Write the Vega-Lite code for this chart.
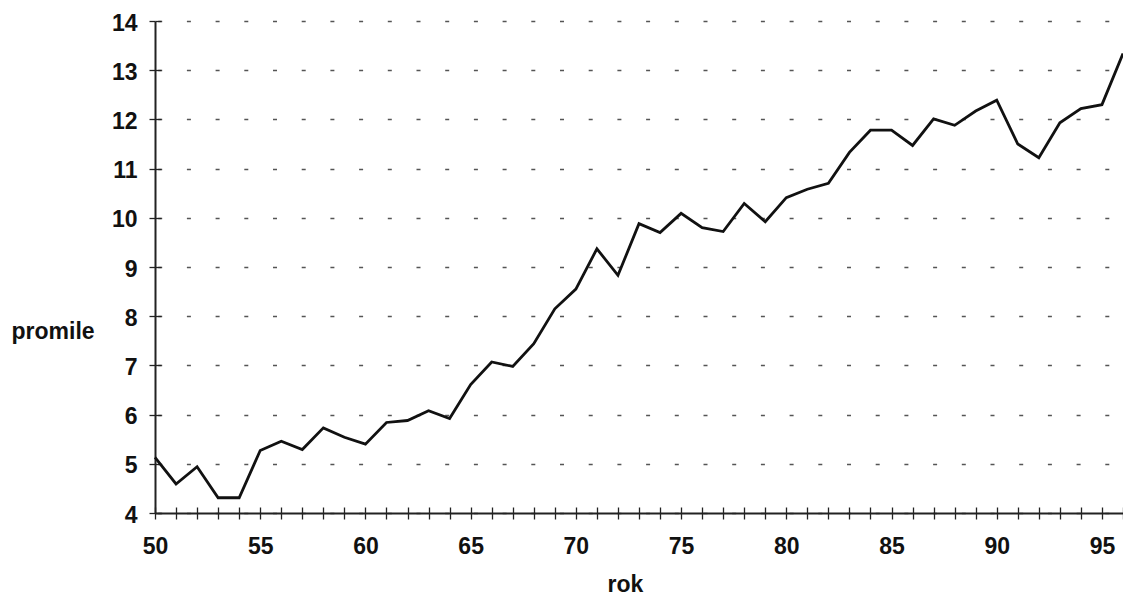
{
  "$schema": "https://vega.github.io/schema/vega-lite/v6.json",
  "width": 968,
  "height": 492,
  "autosize": {"type": "none"},
  "padding": {"left": 155, "top": 21, "right": 0, "bottom": 85},
  "background": "white",
  "config": {
    "view": {"stroke": null},
    "font": "Liberation Sans",
    "axis": {"labelFont": "Liberation Sans", "titleFont": "Liberation Sans"}
  },
  "data": {
    "values": [
      {"rok": 50, "promile": 5.13}, {"rok": 51, "promile": 4.59}, {"rok": 52, "promile": 4.94},
      {"rok": 53, "promile": 4.31}, {"rok": 54, "promile": 4.31}, {"rok": 55, "promile": 5.27},
      {"rok": 56, "promile": 5.46}, {"rok": 57, "promile": 5.29}, {"rok": 58, "promile": 5.73},
      {"rok": 59, "promile": 5.54}, {"rok": 60, "promile": 5.4}, {"rok": 61, "promile": 5.84},
      {"rok": 62, "promile": 5.88}, {"rok": 63, "promile": 6.08}, {"rok": 64, "promile": 5.92},
      {"rok": 65, "promile": 6.61}, {"rok": 66, "promile": 7.07}, {"rok": 67, "promile": 6.98},
      {"rok": 68, "promile": 7.44}, {"rok": 69, "promile": 8.15}, {"rok": 70, "promile": 8.55},
      {"rok": 71, "promile": 9.37}, {"rok": 72, "promile": 8.83}, {"rok": 73, "promile": 9.88},
      {"rok": 74, "promile": 9.7}, {"rok": 75, "promile": 10.09}, {"rok": 76, "promile": 9.8},
      {"rok": 77, "promile": 9.72}, {"rok": 78, "promile": 10.29}, {"rok": 79, "promile": 9.92},
      {"rok": 80, "promile": 10.41}, {"rok": 81, "promile": 10.58}, {"rok": 82, "promile": 10.7},
      {"rok": 83, "promile": 11.33}, {"rok": 84, "promile": 11.78}, {"rok": 85, "promile": 11.78},
      {"rok": 86, "promile": 11.47}, {"rok": 87, "promile": 12.01}, {"rok": 88, "promile": 11.88},
      {"rok": 89, "promile": 12.17}, {"rok": 90, "promile": 12.39}, {"rok": 91, "promile": 11.5},
      {"rok": 92, "promile": 11.22}, {"rok": 93, "promile": 11.93}, {"rok": 94, "promile": 12.22},
      {"rok": 95, "promile": 12.3}, {"rok": 96, "promile": 13.34}
    ]
  },
  "layer": [
    {
      "mark": {"type": "line", "color": "#111111", "strokeWidth": 2.8, "strokeJoin": "miter"},
      "encoding": {
        "x": {
          "field": "rok", "type": "quantitative",
          "scale": {"domain": [50, 96], "nice": false, "zero": false},
          "axis": {
            "title": "rok",
            "titleFontSize": 23, "titleFontWeight": "bold", "titleColor": "#111",
            "titleX": 470, "titleY": 78, "titleBaseline": "alphabetic", "titleAlign": "center",
            "values": [50,51,52,53,54,55,56,57,58,59,60,61,62,63,64,65,66,67,68,69,70,71,72,73,74,75,76,77,78,79,80,81,82,83,84,85,86,87,88,89,90,91,92,93,94,95,96],
            "labelExpr": "datum.value % 5 == 0 ? datum.label : ''",
            "labelFontSize": 23, "labelFontWeight": "bold", "labelColor": "#111",
            "labelPadding": 16, "labelFlush": false, "labelOverlap": false,
            "tickSize": 6, "tickColor": "#222", "tickWidth": 1.3,
            "domainColor": "#222", "domainWidth": 2,
            "grid": false
          }
        },
        "y": {
          "field": "promile", "type": "quantitative",
          "scale": {"domain": [4, 14], "nice": false, "zero": false},
          "axis": {
            "title": "promile",
            "titleFontSize": 23, "titleFontWeight": "bold", "titleColor": "#111",
            "titleAngle": 0, "titleX": -144, "titleY": 317, "titleAlign": "left", "titleBaseline": "alphabetic",
            "values": [4,5,6,7,8,9,10,11,12,13,14],
            "labelFontSize": 23, "labelFontWeight": "bold", "labelColor": "#111",
            "labelPadding": 12, "labelFlush": false, "labelOffset": 2,
            "tickSize": 6, "tickColor": "#222", "tickWidth": 1.3,
            "domainColor": "#222", "domainWidth": 2,
            "grid": true, "gridColor": "#555", "gridWidth": 1.6, "gridDash": [4, 24.7], "gridDashOffset": 26
          }
        }
      }
    },
    {
      "mark": {"type": "line", "strokeOpacity": 0},
      "encoding": {
        "x": {
          "field": "rok", "type": "quantitative",
          "axis": {
            "orient": "bottom", "title": null, "labels": false, "domain": false, "grid": false,
            "values": [50,51,52,53,54,55,56,57,58,59,60,61,62,63,64,65,66,67,68,69,70,71,72,73,74,75,76,77,78,79,80,81,82,83,84,85,86,87,88,89,90,91,92,93,94,95,96],
            "tickSize": -6, "tickColor": "#222", "tickWidth": 1.3
          }
        },
        "y": {
          "field": "promile", "type": "quantitative",
          "axis": {
            "orient": "left", "title": null, "labels": false, "domain": false, "grid": false,
            "values": [4,5,6,7,8,9,10,11,12,13,14],
            "tickSize": -6, "tickColor": "#222", "tickWidth": 1.3
          }
        }
      }
    }
  ],
  "resolve": {"axis": {"x": "independent", "y": "independent"}}
}
